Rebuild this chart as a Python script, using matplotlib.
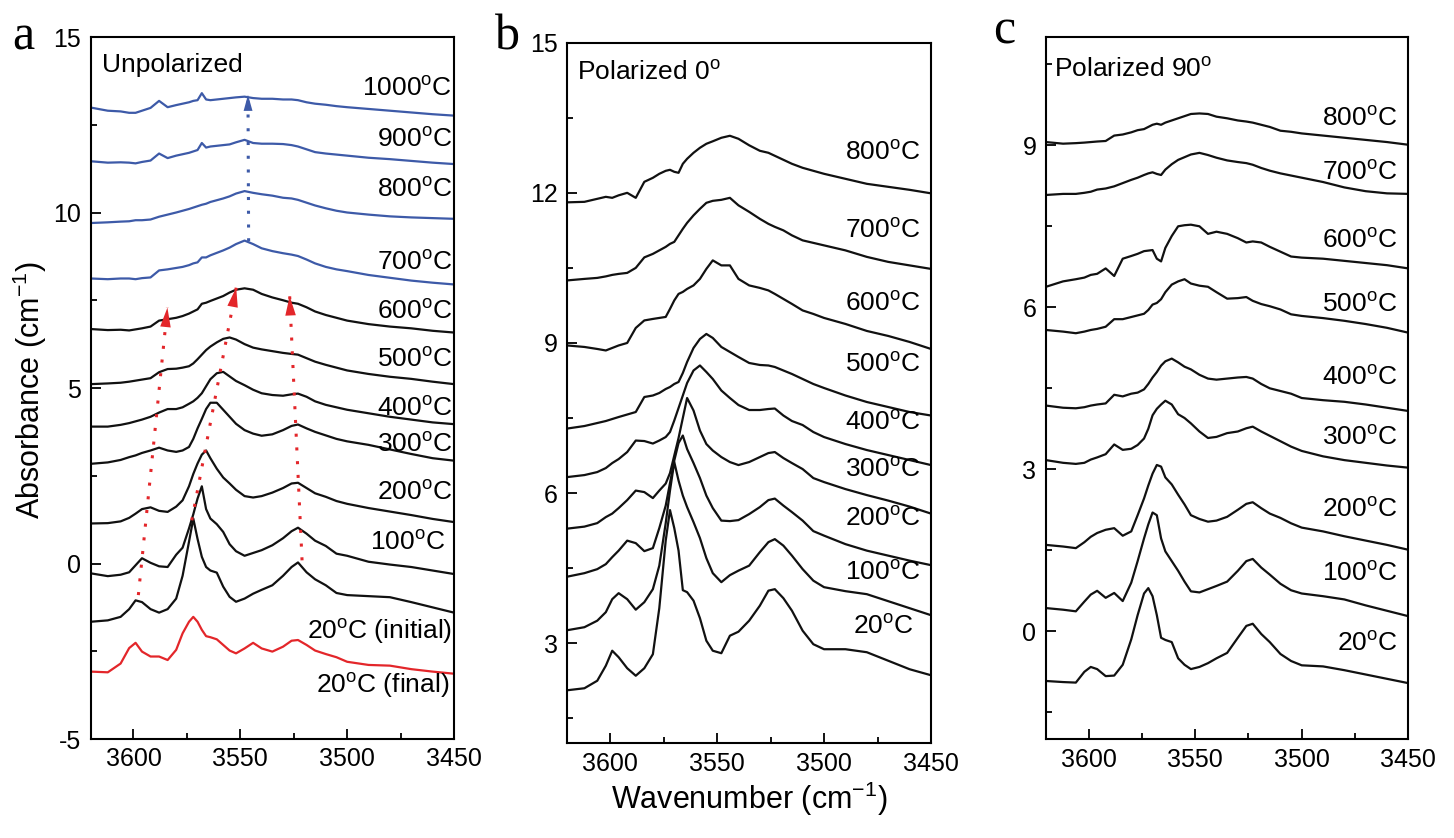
import matplotlib
matplotlib.use("Agg")
import matplotlib.pyplot as plt
from matplotlib.ticker import MultipleLocator

plt.rcParams["font.family"] = ["Liberation Sans", "DejaVu Sans"]
plt.rcParams["mathtext.fontset"] = "custom"
plt.rcParams["mathtext.rm"] = "Liberation Sans"
plt.rcParams["axes.unicode_minus"] = False

# wavenumber grid (cm-1) shared by every spectrum
wavenumber = [3620, 3612, 3606, 3602, 3599, 3596, 3592, 3588, 3584, 3580,
              3577, 3574, 3572, 3570, 3568, 3566, 3564, 3561, 3558, 3555,
              3552, 3548, 3544, 3540, 3535, 3530, 3526, 3523, 3519, 3515,
              3510, 3505, 3500, 3490, 3480, 3470, 3460, 3450]

# --- panel a: unpolarized ---
a_final = [-3.08, -3.10, -2.85, -2.41, -2.26, -2.51, -2.65, -2.65, -2.75, -2.46,
           -1.99, -1.66, -1.52, -1.66, -1.89, -2.07, -2.10, -2.16, -2.32, -2.48,
           -2.56, -2.42, -2.26, -2.42, -2.51, -2.37, -2.20, -2.18, -2.32, -2.48,
           -2.58, -2.67, -2.80, -2.89, -2.91, -3.01, -3.08, -3.14]
a_initial = [-1.66, -1.62, -1.52, -1.30, -1.05, -1.10, -1.30, -1.40, -1.30, -1.00,
             -0.35, 0.62, 1.28, 0.70, 0.19, -0.10, -0.20, -0.26, -0.66, -0.95,
             -1.09, -1.00, -0.86, -0.75, -0.62, -0.35, -0.10, 0.03, -0.25, -0.45,
             -0.62, -0.84, -0.90, -0.93, -0.96, -1.10, -1.25, -1.40]
a_100 = [-0.28, -0.36, -0.32, -0.25, -0.05, 0.15, 0.02, -0.08, -0.10, 0.25,
         0.45, 1.00, 1.40, 1.85, 2.20, 1.55, 1.28, 1.12, 0.90, 0.55,
         0.35, 0.22, 0.30, 0.38, 0.52, 0.72, 0.92, 1.02, 0.85, 0.65,
         0.50, 0.28, 0.22, 0.05, -0.03, -0.10, -0.20, -0.30]
a_200 = [1.14, 1.15, 1.20, 1.30, 1.42, 1.55, 1.60, 1.50, 1.47, 1.62,
         1.80, 2.20, 2.55, 2.85, 3.10, 3.22, 3.00, 2.70, 2.45, 2.28,
         2.10, 1.92, 1.88, 1.92, 2.02, 2.15, 2.28, 2.30, 2.15, 2.00,
         1.90, 1.78, 1.70, 1.58, 1.48, 1.38, 1.27, 1.18]
a_300 = [2.84, 2.88, 2.95, 3.03, 3.08, 3.15, 3.22, 3.30, 3.22, 3.18,
         3.22, 3.32, 3.55, 3.85, 4.12, 4.40, 4.58, 4.58, 4.38, 4.18,
         3.98, 3.80, 3.70, 3.64, 3.68, 3.80, 3.92, 3.96, 3.85, 3.75,
         3.65, 3.55, 3.48, 3.38, 3.25, 3.12, 3.00, 2.93]
a_400 = [3.90, 3.90, 3.95, 4.00, 4.05, 4.10, 4.18, 4.30, 4.40, 4.40,
         4.45, 4.55, 4.62, 4.72, 4.85, 5.05, 5.25, 5.42, 5.46, 5.33,
         5.20, 5.08, 4.95, 4.85, 4.80, 4.78, 4.82, 4.84, 4.75, 4.62,
         4.52, 4.45, 4.38, 4.28, 4.18, 4.10, 4.02, 3.97]
a_500 = [5.11, 5.13, 5.15, 5.18, 5.21, 5.24, 5.28, 5.45, 5.54, 5.55,
         5.58, 5.62, 5.70, 5.82, 5.95, 6.08, 6.18, 6.30, 6.40, 6.44,
         6.38, 6.25, 6.15, 6.10, 6.05, 6.00, 5.97, 5.95, 5.85, 5.75,
         5.66, 5.58, 5.50, 5.40, 5.32, 5.26, 5.18, 5.11]
a_600 = [6.68, 6.65, 6.66, 6.64, 6.67, 6.70, 6.75, 6.92, 6.96, 7.00,
         7.05, 7.12, 7.18, 7.24, 7.40, 7.43, 7.48, 7.55, 7.62, 7.72,
         7.80, 7.84, 7.80, 7.68, 7.58, 7.50, 7.43, 7.40, 7.30, 7.18,
         7.08, 7.00, 6.92, 6.82, 6.75, 6.70, 6.63, 6.58]
a_700 = [8.12, 8.10, 8.12, 8.12, 8.10, 8.13, 8.15, 8.35, 8.38, 8.42,
         8.45, 8.50, 8.55, 8.58, 8.72, 8.72, 8.78, 8.85, 8.92, 9.00,
         9.10, 9.20, 9.10, 8.98, 8.90, 8.84, 8.80, 8.76, 8.66, 8.55,
         8.45, 8.38, 8.33, 8.22, 8.14, 8.06, 8.00, 7.95]
a_800 = [9.70, 9.72, 9.74, 9.75, 9.78, 9.78, 9.80, 9.88, 9.94, 10.00,
         10.05, 10.10, 10.14, 10.18, 10.22, 10.25, 10.30, 10.35, 10.40, 10.46,
         10.54, 10.61, 10.56, 10.52, 10.48, 10.42, 10.40, 10.36, 10.28, 10.20,
         10.12, 10.05, 10.00, 9.94, 9.89, 9.86, 9.84, 9.82]
a_900 = [11.46, 11.42, 11.43, 11.42, 11.40, 11.44, 11.48, 11.68, 11.55, 11.62,
         11.66, 11.70, 11.74, 11.78, 11.98, 11.85, 11.88, 11.90, 11.92, 11.94,
         12.00, 12.07, 11.98, 11.96, 11.96, 11.95, 11.92, 11.88, 11.80, 11.72,
         11.68, 11.65, 11.62, 11.56, 11.52, 11.47, 11.42, 11.38]
a_1000 = [12.99, 12.90, 12.88, 12.84, 12.84, 12.90, 12.98, 13.18, 13.00, 13.06,
          13.10, 13.14, 13.18, 13.20, 13.40, 13.22, 13.20, 13.22, 13.24, 13.26,
          13.28, 13.30, 13.26, 13.24, 13.24, 13.22, 13.22, 13.20, 13.14, 13.10,
          13.07, 13.03, 13.00, 12.95, 12.90, 12.85, 12.80, 12.76]

# --- panel b: polarized 0 deg ---
b_20 = [2.06, 2.10, 2.25, 2.55, 2.85, 2.72, 2.50, 2.35, 2.50, 2.78,
        3.70, 5.05, 5.66, 5.30, 4.85, 4.06, 4.02, 3.85, 3.50, 3.05,
        2.85, 2.80, 3.15, 3.23, 3.45, 3.75, 4.05, 4.08, 3.90, 3.65,
        3.25, 2.98, 2.88, 2.88, 2.82, 2.65, 2.48, 2.36]
b_100 = [3.26, 3.32, 3.45, 3.62, 3.88, 4.00, 3.88, 3.67, 3.82, 4.08,
         4.55, 5.40, 6.05, 6.62, 6.25, 5.95, 5.72, 5.42, 5.10, 4.70,
         4.40, 4.22, 4.36, 4.45, 4.55, 4.82, 5.02, 5.08, 4.95, 4.75,
         4.48, 4.25, 4.12, 4.04, 3.98, 3.84, 3.70, 3.56]
b_200 = [4.33, 4.40, 4.48, 4.58, 4.72, 4.85, 5.05, 5.00, 4.84, 4.90,
         5.30, 5.75, 6.20, 6.65, 7.00, 7.15, 6.88, 6.60, 6.30, 5.95,
         5.70, 5.45, 5.44, 5.46, 5.58, 5.72, 5.86, 5.89, 5.75, 5.62,
         5.45, 5.24, 5.15, 4.98, 4.85, 4.75, 4.65, 4.56]
b_300 = [5.29, 5.33, 5.40, 5.52, 5.59, 5.70, 5.86, 6.05, 6.02, 5.90,
         6.05, 6.19, 6.40, 6.75, 7.10, 7.50, 7.90, 7.65, 7.25, 6.98,
         6.85, 6.72, 6.62, 6.56, 6.62, 6.72, 6.80, 6.82, 6.70, 6.60,
         6.48, 6.30, 6.22, 6.08, 5.96, 5.85, 5.73, 5.59]
b_400 = [6.32, 6.36, 6.42, 6.50, 6.60, 6.68, 6.82, 7.05, 7.04, 6.99,
         7.05, 7.12, 7.22, 7.45, 7.70, 7.95, 8.20, 8.45, 8.55, 8.42,
         8.28, 8.05, 7.90, 7.76, 7.66, 7.66, 7.68, 7.69, 7.55, 7.44,
         7.36, 7.22, 7.12, 6.98, 6.86, 6.76, 6.66, 6.56]
b_500 = [7.29, 7.34, 7.40, 7.44, 7.48, 7.52, 7.57, 7.62, 7.92, 7.95,
         8.00, 8.08, 8.12, 8.18, 8.22, 8.40, 8.62, 8.90, 9.08, 9.18,
         9.10, 8.92, 8.82, 8.72, 8.60, 8.56, 8.55, 8.52, 8.45, 8.38,
         8.28, 8.18, 8.10, 7.95, 7.82, 7.72, 7.62, 7.55]
b_600 = [8.95, 8.92, 8.88, 8.85, 8.90, 8.95, 9.00, 9.30, 9.45, 9.48,
         9.50, 9.52, 9.68, 9.85, 9.98, 10.02, 10.08, 10.15, 10.28, 10.48,
         10.65, 10.55, 10.55, 10.28, 10.15, 10.10, 10.05, 9.98, 9.88, 9.78,
         9.65, 9.58, 9.50, 9.38, 9.24, 9.14, 9.02, 8.88]
b_700 = [10.25, 10.28, 10.30, 10.33, 10.36, 10.38, 10.40, 10.50, 10.71, 10.78,
         10.85, 10.92, 10.98, 11.02, 11.15, 11.28, 11.40, 11.55, 11.68, 11.80,
         11.84, 11.86, 11.90, 11.75, 11.62, 11.48, 11.38, 11.32, 11.25, 11.15,
         11.05, 11.00, 10.95, 10.85, 10.72, 10.62, 10.55, 10.48]
b_800 = [11.81, 11.82, 11.88, 11.92, 11.90, 11.95, 12.00, 11.90, 12.22, 12.30,
         12.38, 12.44, 12.46, 12.42, 12.40, 12.58, 12.68, 12.80, 12.90, 12.98,
         13.03, 13.10, 13.14, 13.08, 12.95, 12.84, 12.80, 12.74, 12.66, 12.58,
         12.50, 12.44, 12.38, 12.28, 12.18, 12.12, 12.06, 11.99]

# --- panel c: polarized 90 deg ---
c_20 = [-0.92, -0.94, -0.95, -0.75, -0.66, -0.70, -0.83, -0.82, -0.62, -0.15,
        0.30, 0.70, 0.80, 0.65, 0.30, -0.12, -0.16, -0.20, -0.50, -0.62,
        -0.70, -0.66, -0.59, -0.50, -0.40, -0.12, 0.10, 0.14, -0.05, -0.20,
        -0.42, -0.55, -0.63, -0.65, -0.72, -0.80, -0.88, -0.96]
c_100 = [0.43, 0.40, 0.37, 0.55, 0.68, 0.75, 0.62, 0.71, 0.56, 0.90,
         1.30, 1.72, 1.98, 2.20, 2.15, 1.72, 1.48, 1.30, 1.12, 0.92,
         0.74, 0.72, 0.78, 0.84, 0.92, 1.12, 1.30, 1.34, 1.18, 1.05,
         0.88, 0.76, 0.70, 0.65, 0.59, 0.48, 0.38, 0.28]
c_200 = [1.60, 1.57, 1.54, 1.65, 1.75, 1.82, 1.88, 1.91, 1.77, 1.85,
         2.15, 2.46, 2.70, 2.92, 3.08, 3.05, 2.85, 2.72, 2.53, 2.35,
         2.15, 2.08, 2.03, 2.05, 2.12, 2.25, 2.36, 2.39, 2.28, 2.18,
         2.10, 2.00, 1.92, 1.85, 1.76, 1.68, 1.60, 1.51]
c_300 = [3.17, 3.12, 3.10, 3.12, 3.18, 3.22, 3.28, 3.46, 3.36, 3.38,
         3.45, 3.57, 3.75, 4.00, 4.12, 4.20, 4.27, 4.20, 4.02, 3.95,
         3.85, 3.70, 3.58, 3.60, 3.67, 3.70, 3.76, 3.79, 3.70, 3.62,
         3.52, 3.42, 3.34, 3.24, 3.17, 3.12, 3.07, 3.03]
c_400 = [4.18, 4.14, 4.13, 4.15, 4.18, 4.20, 4.22, 4.38, 4.35, 4.40,
         4.42, 4.48, 4.58, 4.70, 4.80, 4.92, 5.00, 5.05, 4.98, 4.90,
         4.85, 4.75, 4.68, 4.66, 4.68, 4.70, 4.71, 4.68, 4.58, 4.50,
         4.45, 4.40, 4.32, 4.28, 4.25, 4.20, 4.14, 4.08]
c_500 = [5.58, 5.55, 5.52, 5.55, 5.58, 5.60, 5.64, 5.78, 5.78, 5.82,
         5.85, 5.88, 5.95, 6.05, 6.08, 6.15, 6.28, 6.42, 6.48, 6.52,
         6.44, 6.40, 6.38, 6.28, 6.16, 6.17, 6.19, 6.12, 6.06, 6.02,
         5.96, 5.87, 5.84, 5.80, 5.75, 5.69, 5.62, 5.53]
c_600 = [6.38, 6.48, 6.52, 6.55, 6.60, 6.62, 6.72, 6.58, 6.90, 6.95,
         6.99, 7.04, 7.05, 7.06, 6.90, 6.85, 7.10, 7.32, 7.50, 7.52,
         7.53, 7.50, 7.36, 7.40, 7.36, 7.28, 7.20, 7.22, 7.20, 7.12,
         7.03, 6.94, 6.92, 6.90, 6.86, 6.82, 6.78, 6.72]
c_700 = [8.08, 8.10, 8.10, 8.12, 8.14, 8.18, 8.20, 8.24, 8.30, 8.36,
         8.40, 8.45, 8.48, 8.50, 8.47, 8.45, 8.55, 8.65, 8.73, 8.78,
         8.83, 8.86, 8.82, 8.77, 8.72, 8.69, 8.67, 8.64, 8.58, 8.53,
         8.48, 8.44, 8.40, 8.32, 8.22, 8.15, 8.11, 8.10]
c_800 = [9.06, 9.03, 9.04, 9.05, 9.06, 9.07, 9.08, 9.18, 9.20, 9.24,
         9.28, 9.30, 9.34, 9.38, 9.40, 9.38, 9.42, 9.46, 9.50, 9.54,
         9.58, 9.59, 9.58, 9.53, 9.50, 9.46, 9.44, 9.42, 9.38, 9.34,
         9.27, 9.25, 9.22, 9.18, 9.14, 9.10, 9.06, 9.01]

BLACK = "#111111"
BLUE = "#3d5aa8"
RED = "#e3262a"
DEG = r"$^{\rm o}$C"

fig = plt.figure(figsize=(14.54, 8.38), dpi=100)
W, H = 1454, 838


def add_panel(x0, x1, y0, y1):
    return fig.add_axes([x0 / W, 1 - y1 / H, (x1 - x0) / W, (y1 - y0) / H])


def style(ax, ylim, major, minor):
    ax.set_xlim(3620, 3450)
    ax.set_ylim(*ylim)
    ax.xaxis.set_major_locator(MultipleLocator(50))
    ax.xaxis.set_minor_locator(MultipleLocator(25))
    ax.yaxis.set_major_locator(MultipleLocator(major))
    ax.yaxis.set_minor_locator(MultipleLocator(minor))
    ax.tick_params(which="both", direction="in", top=False, right=False,
                   labelsize=18, width=1.3)
    ax.tick_params(which="major", length=7)
    ax.tick_params(which="minor", length=4)
    ax.tick_params(axis="x", pad=6)
    ax.tick_params(axis="y", pad=7)
    for s in ax.spines.values():
        s.set_linewidth(1.5)


# ---------- panel a ----------
ax_a = add_panel(90.7, 454, 37, 739)
style(ax_a, (-5, 15), 5, 2.5)
a_black = [a_initial, a_100, a_200, a_300, a_400, a_500, a_600]
a_blue = [a_700, a_800, a_900, a_1000]
ax_a.plot(wavenumber, a_final, color=RED, lw=1.6)
for s in a_black:
    ax_a.plot(wavenumber, s, color=BLACK, lw=1.6)
for s in a_blue:
    ax_a.plot(wavenumber, s, color=BLUE, lw=1.6)

a_labels = ["1000" + DEG, "900" + DEG, "800" + DEG, "700" + DEG, "600" + DEG,
            "500" + DEG, "400" + DEG, "300" + DEG, "200" + DEG, "100" + DEG,
            "20" + DEG + " (initial)", "20" + DEG + " (final)"]
a_label_y = [13.53, 12.09, 10.65, 8.57, 7.18, 5.80, 4.43, 3.39, 2.03, 0.61, -1.94, -3.46]
a_label_x = [3451, 3451, 3451, 3451, 3451, 3451, 3451, 3451, 3451, 3454, 3451, 3452]
for t, x, y in zip(a_labels, a_label_x, a_label_y):
    ax_a.text(x, y, t, ha="right", va="center", fontsize=19)
ax_a.text(3614.8, 14.2, "Unpolarized", ha="left", va="center", fontsize=19)

# dotted guide arrows (start, tip)
red_arrows = [((3597.7, -0.90), (3584.1, 7.29)),
              ((3572.7, 1.23), (3551.9, 7.86)),
              ((3521.1, 0.09), (3526.9, 7.62))]
blue_arrows = [((3546.1, 9.18), (3546.4, 13.35))]
for arrows, col, hl, hw in [(red_arrows, RED, 1.4, 0.38), (blue_arrows, BLUE, 1.15, 0.32)]:
    for (xs, ys), (xt, yt) in arrows:
        ax_a.plot([xs, xt], [ys, yt], ls=(0, (1, 3.5)), lw=2.2, color=col)
        ax_a.annotate("", xy=(xt, yt), xytext=(xs, ys),
                      arrowprops=dict(arrowstyle=f"-|>,head_length={hl},head_width={hw}",
                                      color=col, lw=0, shrinkA=0, shrinkB=0))

# ---------- panel b ----------
ax_b = add_panel(567.3, 931, 42.7, 743.3)
style(ax_b, (1, 15), 3, 1.5)
b_series = [b_20, b_100, b_200, b_300, b_400, b_500, b_600, b_700, b_800]
for s in b_series:
    ax_b.plot(wavenumber, s, color=BLACK, lw=1.6)
b_labels = ["20" + DEG, "100" + DEG, "200" + DEG, "300" + DEG, "400" + DEG,
            "500" + DEG, "600" + DEG, "700" + DEG, "800" + DEG]
b_label_y = [3.33, 4.41, 5.49, 6.47, 7.42, 8.58, 9.78, 11.25, 12.81]
b_label_x = [3458, 3455, 3455, 3455, 3455, 3455, 3455, 3455, 3455]
for t, x, y in zip(b_labels, b_label_x, b_label_y):
    ax_b.text(x, y, t, ha="right", va="center", fontsize=19)
ax_b.text(3615.6, 14.41, "Polarized 0$^{\\rm o}$", ha="left", va="center", fontsize=19)

# ---------- panel c ----------
ax_c = add_panel(1046, 1408.3, 37.3, 739.3)
style(ax_c, (-2, 11), 3, 1.5)
c_series = [c_20, c_100, c_200, c_300, c_400, c_500, c_600, c_700, c_800]
for s in c_series:
    ax_c.plot(wavenumber, s, color=BLACK, lw=1.6)
c_label_y = [-0.23, 1.07, 2.25, 3.59, 4.70, 6.06, 7.24, 8.49, 9.49]
for t, y in zip(b_labels, c_label_y):
    ax_c.text(3455, y, t, ha="right", va="center", fontsize=19)
ax_c.text(3616.2, 10.40, "Polarized 90$^{\\rm o}$", ha="left", va="center", fontsize=19)

# shared axis labels and panel letters
fig.text(30 / W, 1 - 390 / H, "Absorbance (cm$^{-1}$)", rotation=90,
         ha="center", va="center", fontsize=22)
fig.text(749 / W, 1 - 809 / H, "Wavenumber (cm$^{-1}$)",
         ha="center", va="baseline", fontsize=22)
for letter, x, y in [("a", 12, 50), ("b", 495, 50), ("c", 993, 43)]:
    fig.text(x / W, 1 - y / H, letter, ha="left", va="baseline",
             fontsize=36, family="Liberation Serif")

fig.savefig("out.png", dpi=100)
